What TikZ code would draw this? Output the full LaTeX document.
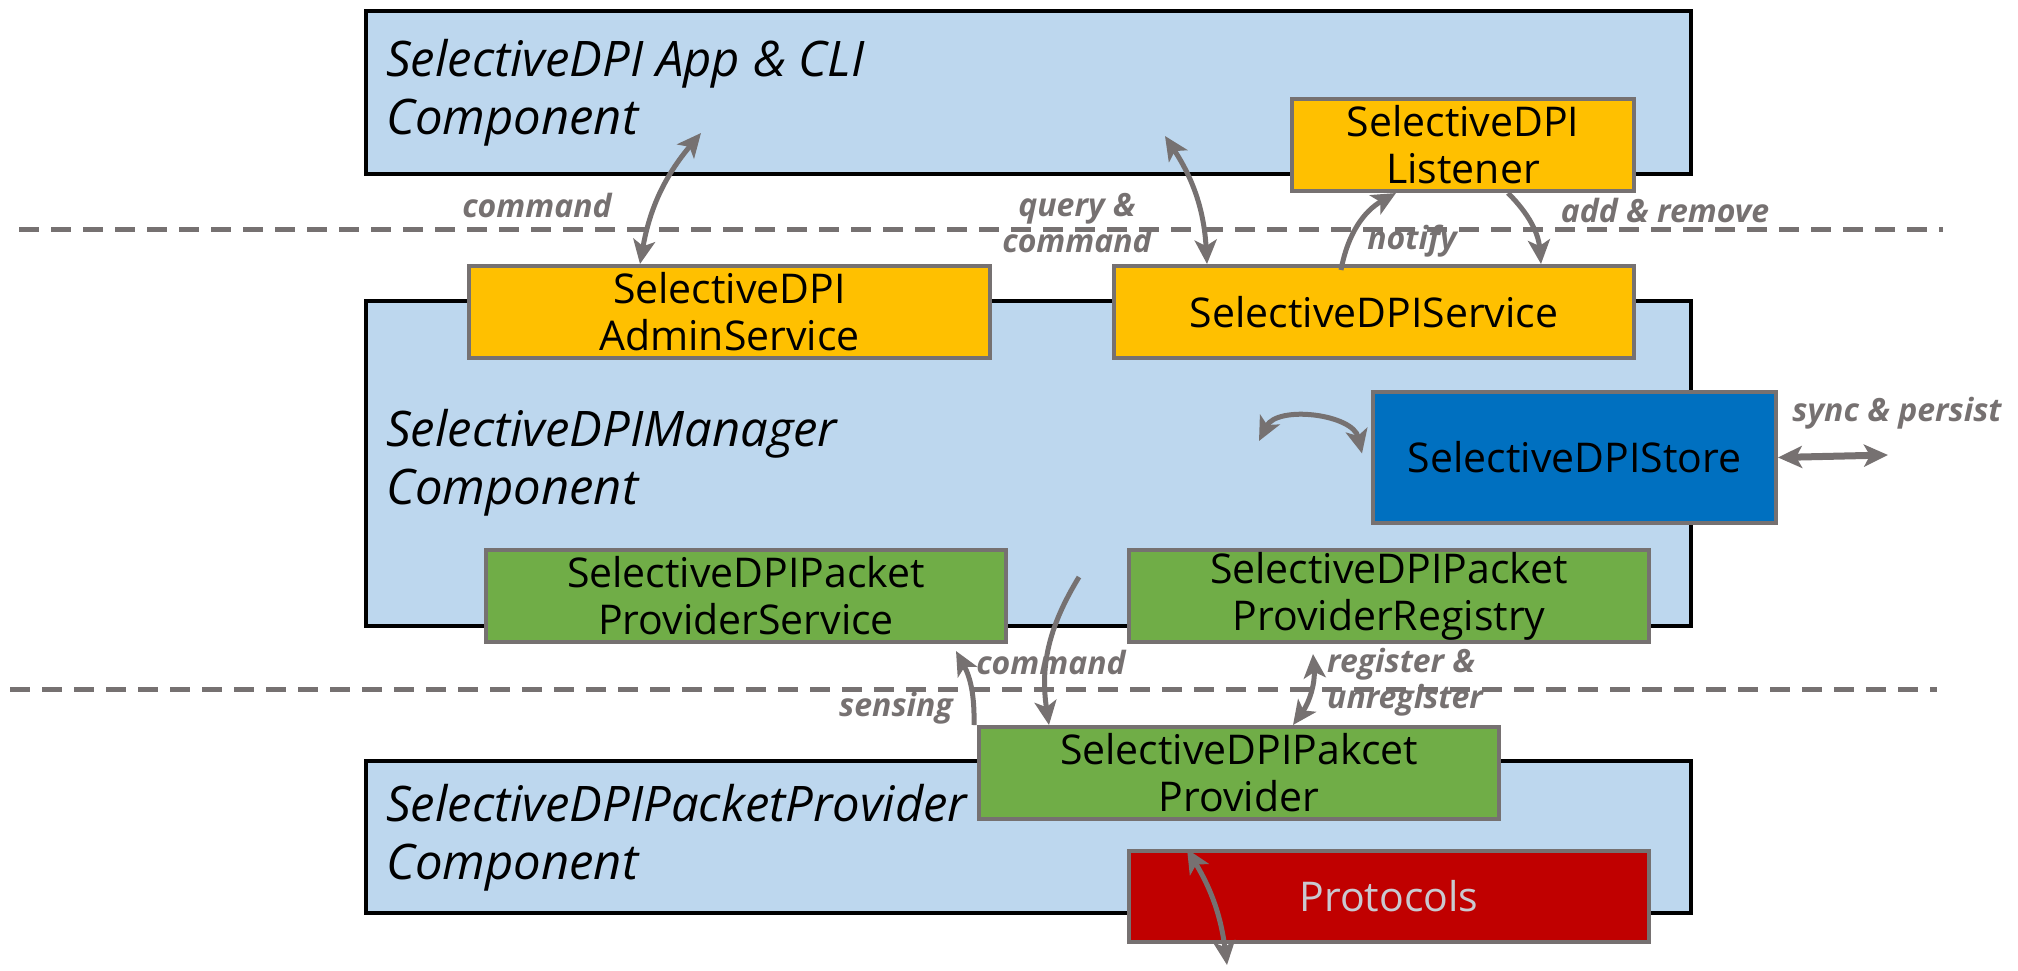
\documentclass[tikz,border=0pt]{standalone}
\usepackage{fontspec}
\setmainfont{Open Sans}
\usetikzlibrary{arrows.meta,calc}
\definecolor{compBlue}{HTML}{BDD7EE}
\definecolor{boxGray}{HTML}{767171}
\definecolor{svcYellow}{HTML}{FFC000}
\definecolor{pktGreen}{HTML}{70AD47}
\definecolor{storeBlue}{HTML}{0070C0}
\definecolor{protoRed}{HTML}{C00000}
\definecolor{protoText}{HTML}{C9C9D0}
\tikzset{
  compBox/.style={rectangle, draw=black, fill=compBlue, line width=4pt, anchor=north west, inner sep=0pt},
  innerBox/.style={rectangle, draw=boxGray, line width=4pt, anchor=north west, align=center, inner sep=0pt,
    font=\fontsize{41}{47}\selectfont},
  compTitle/.style={anchor=west, align=left, inner sep=0pt, font=\fontsize{49}{58}\selectfont\itshape},
  flowLabel/.style={text=boxGray, inner sep=0pt, font=\fontsize{32}{36}\selectfont\bfseries\itshape},
  flowArrow/.style={draw=boxGray, line width=5pt, -{Stealth[length=24pt,width=22pt,inset=6pt]}},
  bothArrow/.style={draw=boxGray, line width=5pt,
    {Stealth[length=24pt,width=22pt,inset=6pt]}-{Stealth[length=24pt,width=22pt,inset=6pt]}},
  sepLine/.style={draw=boxGray, line width=5pt, dash pattern=on 20pt off 12pt}
}
\begin{document}
\begin{tikzpicture}[x=1pt, y=-1pt]
  \useasboundingbox (0,0) rectangle (2018,970);

  % layer separators
  \coordinate (sepOneL) at (19,229);
  \coordinate (sepOneR) at (1943,229);
  \coordinate (sepTwoL) at (10,689);
  \coordinate (sepTwoR) at (1937,689);
  \draw[sepLine] (sepOneL) -- (sepOneR);
  \draw[sepLine] (sepTwoL) -- (sepTwoR);

  % components
  \node[compBox, minimum width=1325, minimum height=163] (appComp) at (364,9) {};
  \node[compBox, minimum width=1325, minimum height=325] (managerComp) at (364,299) {};
  \node[compBox, minimum width=1325, minimum height=152] (providerComp) at (364,759) {};
  \node[compTitle] (appTitle) at (386,93) {SelectiveDPI App \& CLI\\Component};
  \node[compTitle] (managerTitle) at (386,463) {SelectiveDPIManager\\Component};
  \node[compTitle] (providerTitle) at (386,838) {SelectiveDPIPacketProvider\\Component};

  % services
  \node[innerBox, fill=svcYellow, minimum width=342, minimum height=92] (listener) at (1290,97) {SelectiveDPI\\Listener};
  \node[innerBox, fill=svcYellow, minimum width=521, minimum height=92] (adminService) at (467,264) {SelectiveDPI\\AdminService};
  \node[innerBox, fill=svcYellow, minimum width=520, minimum height=92] (dpiService) at (1112,264) {SelectiveDPIService};
  \node[innerBox, fill=storeBlue, minimum width=403, minimum height=131] (dpiStore) at (1371,390) {SelectiveDPIStore};
  \node[innerBox, fill=pktGreen, minimum width=520, minimum height=92] (pktService) at (484,548) {SelectiveDPIPacket\\ProviderService};
  \node[innerBox, fill=pktGreen, minimum width=520, minimum height=92] (pktRegistry) at (1127,548) {SelectiveDPIPacket\\ProviderRegistry};
  \node[innerBox, fill=pktGreen, minimum width=520, minimum height=92] (pktProvider) at (977,725) {SelectiveDPIPakcet\\Provider};
  \node[innerBox, fill=protoRed, text=protoText, minimum width=520, minimum height=91] (protocols) at (1127,849) {Protocols};

  % free ends
  \coordinate (appCmd) at (701,133);
  \coordinate (appQuery) at (1165,136);
  \coordinate (managerLoop) at (1259,441);
  \coordinate (syncEnd) at (1888,455);
  \coordinate (managerCmd) at (1079,577);
  \coordinate (protoEnd) at (1227,965);

  % connectors
  \draw[bothArrow] ($(adminService.north west)+(173,0)$) to[bend left=15] (appCmd);
  \draw[bothArrow] ($(dpiService.north west)+(95,0)$) to[bend right=15] (appQuery);
  \draw[flowArrow] ($(dpiService.north west)+(229,6)$) to[bend left=25] ($(listener.south west)+(106,0)$);
  \draw[flowArrow] ($(listener.south west)+(218,0)$) to[bend left=20] ($(dpiService.north west)+(429,0)$);
  \draw[bothArrow] (managerLoop) to[bend left=70] ($(dpiStore.west)+(-9,-4)$);
  \draw[bothArrow, line width=7pt] (dpiStore.east) -- (syncEnd);
  \draw[flowArrow] (managerCmd) to[bend right=20] ($(pktProvider.north west)+(72,0)$);
  \draw[flowArrow] ($(pktProvider.north west)+(-3,0)$) to[bend right=15] ($(pktService.south east)+(-52,7)$);
  \draw[bothArrow] ($(pktRegistry.south west)+(186,10)$) to[bend left=20] ($(pktProvider.north west)+(316,0)$);
  \draw[bothArrow] ($(protocols.north west)+(60,0)$) to[bend left=12] (protoEnd);

  % connector labels
  \node[flowLabel] (cmdTopLabel) at (537,205) {command};
  \node[flowLabel, align=center] (queryLabel) at (1077,223) {query \&\\command};
  \node[flowLabel] (notifyLabel) at (1412,241) {notify};
  \node[flowLabel] (addRemoveLabel) at (1665,210) {add \& remove};
  \node[flowLabel] (syncLabel) at (1897,413) {sync \& persist};
  \node[flowLabel] (cmdLowLabel) at (1051,662) {command};
  \node[flowLabel] (sensingLabel) at (896,708) {sensing};
  \node[flowLabel, align=left] (registerLabel) at (1405,682) {register \&\\unregister};
\end{tikzpicture}
\end{document}
